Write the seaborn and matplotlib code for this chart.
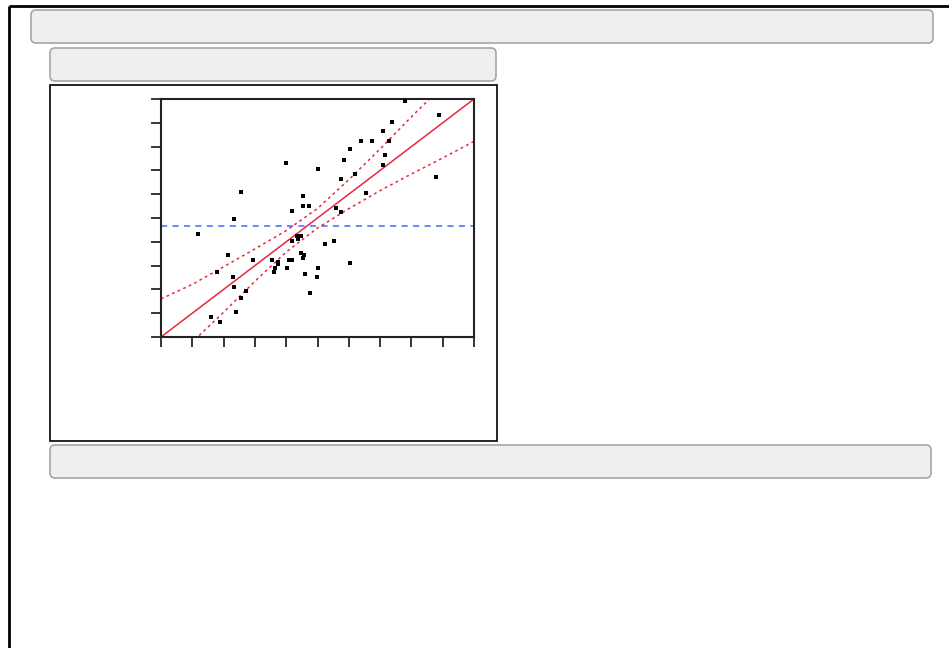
import numpy as np
import pandas as pd
import matplotlib
matplotlib.use('Agg')
import matplotlib.pyplot as plt
from matplotlib.patches import FancyBboxPatch, Rectangle
import seaborn as sns

sns.set_theme(style="white")
plt.rcParams['font.family'] = ['DejaVu Sans']

# 数据: predicted vs actual
predicted = [7.80, 8.89, 7.39, 7.09, 6.39, 6.74, 7.29, 6.04, 7.15, 3.99,
             5.84, 5.03, 7.09, 6.20, 5.74, 8.79, 2.54, 6.54, 4.55, 4.54,
             4.74, 5.59, 5.75, 4.19, 2.34, 1.19, 4.35, 4.48, 4.39, 4.19,
             5.54, 5.24, 2.13, 4.47, 4.57, 4.53, 2.95, 3.55, 4.10, 4.19,
             3.74, 3.75, 6.04, 3.64, 4.04, 5.03, 3.60, 1.80, 4.59, 2.29,
             4.99, 2.34, 2.73, 4.75, 2.55, 2.40, 1.59, 1.88]
actual = [9.92, 9.32, 9.05, 8.64, 8.24, 8.24, 8.24, 7.91, 7.65, 7.31,
          7.44, 7.04, 7.24, 6.85, 6.64, 6.71, 6.11, 6.04, 5.91, 5.52,
          5.51, 5.44, 5.24, 5.30, 4.94, 4.32, 4.24, 4.24, 4.12, 4.03,
          4.03, 3.91, 3.46, 3.52, 3.45, 3.31, 3.24, 3.24, 3.24, 3.24,
          3.15, 3.05, 3.11, 2.91, 2.91, 2.90, 2.72, 2.72, 2.65, 2.51,
          2.51, 2.10, 1.92, 1.84, 1.63, 1.04, 0.84, 0.63]

# 拟合线 & 置信曲线
fit_x = [0, 10]
fit_y = [0, 10]
band_x = [0, 1, 2, 3, 4, 5, 6, 7, 8, 9, 10]
band_upper = [1.60, 2.21, 2.95, 3.70, 4.47, 5.40, 6.61, 7.90, 9.25, 10.55, 11.8]
band_lower = [-1.60, -0.21, 1.04, 2.34, 3.57, 4.58, 5.39, 6.15, 6.85, 7.52, 8.22]
mean_actual = 4.66

df = pd.DataFrame({'Predicted': predicted, 'Actual': actual})

W, H = 949, 648
fig = plt.figure(figsize=(W / 100, H / 100), dpi=100)

# 背景层: 边框和灰色标题框 (像素坐标)
bg = fig.add_axes([0, 0, 1, 1], zorder=0)
bg.set_xlim(0, W)
bg.set_ylim(H, 0)
bg.axis('off')
bg.plot([9, 9], [6, H], color='black', lw=2, solid_capstyle='butt')
bg.plot([9, W], [6, 6], color='black', lw=2, solid_capstyle='butt')
for (x0, y0, x1, y1) in [(31, 10, 933, 43), (50, 48, 496, 81), (50, 445, 931, 478)]:
    bg.add_patch(FancyBboxPatch((x0, y0), x1 - x0, y1 - y0,
                                boxstyle="round,pad=0,rounding_size=5",
                                facecolor='#efefef', edgecolor='#a6a6a6', lw=1.2))
bg.add_patch(Rectangle((50, 85), 447, 356, facecolor='white', edgecolor='black', lw=1.2))

# 主图
ax = fig.add_axes([161 / W, 1 - 337 / H, 313 / W, 238 / H], zorder=1)
ax.set_facecolor('white')
ax.axhline(mean_actual, color='#3d6cf2', lw=1.1, ls=(0, (4, 3.5)), zorder=1)
ax.plot(fit_x, fit_y, color='#e8283c', lw=1.1, zorder=2)
ax.plot(band_x, band_upper, color='#e8283c', lw=1.1, ls=(0, (1.8, 2.2)), zorder=2)
ax.plot(band_x, band_lower, color='#e8283c', lw=1.1, ls=(0, (1.8, 2.2)), zorder=2)
sns.scatterplot(data=df, x='Predicted', y='Actual', ax=ax, marker='s', s=6,
                color='black', linewidth=0, zorder=3)

ax.set_xlim(0, 10)
ax.set_ylim(0, 10)
ax.set_xticks(np.arange(0, 11, 1))
ax.set_yticks(np.arange(0, 11, 1))
ax.set_xticklabels([])
ax.set_yticklabels([])
ax.set_xlabel('')
ax.set_ylabel('')
ax.tick_params(direction='out', length=7, width=1.1, color='black',
               bottom=True, left=True)
for sp in ax.spines.values():
    sp.set_color('#222222')
    sp.set_linewidth(1.5)

fig.savefig('out.png', dpi=100)
